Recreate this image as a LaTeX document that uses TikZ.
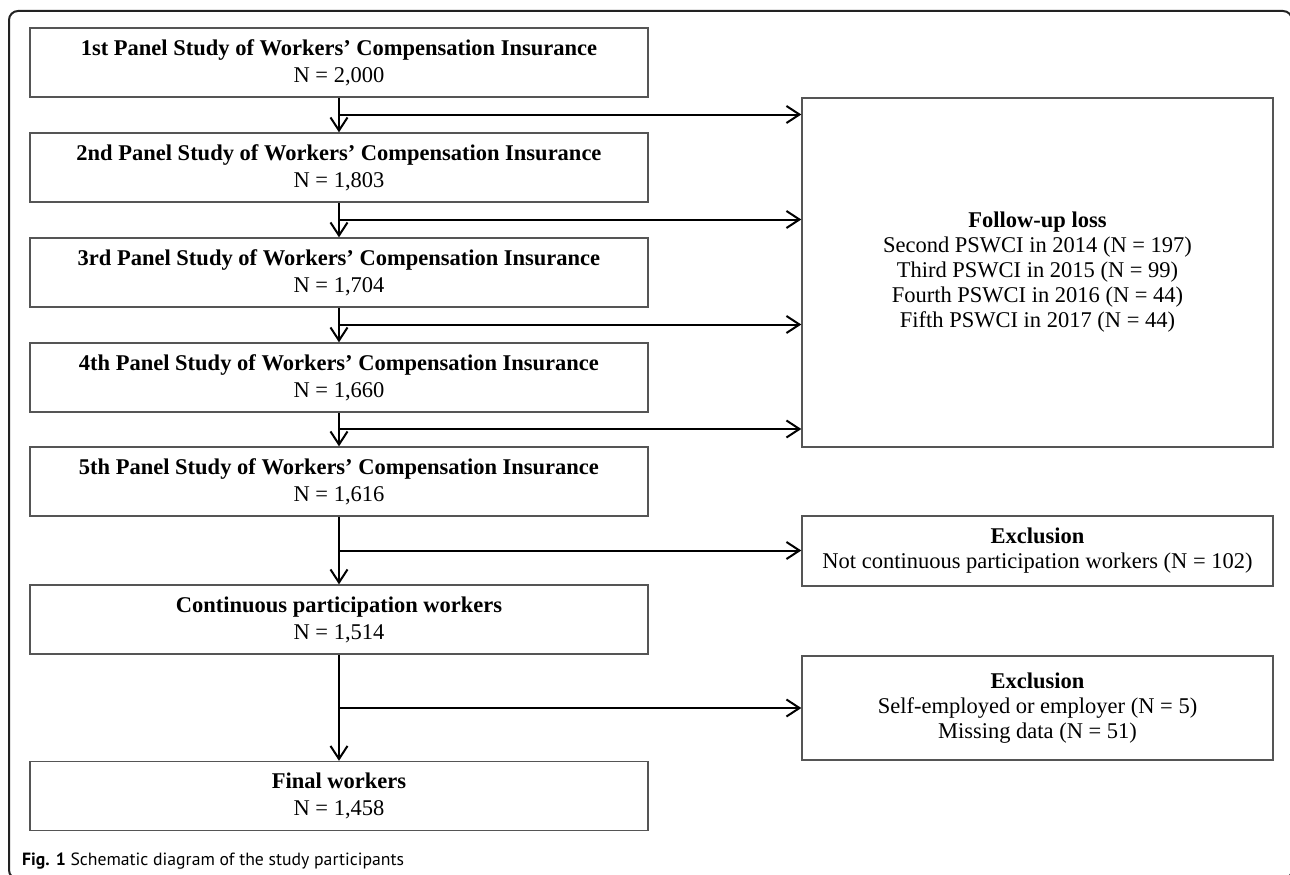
\documentclass[tikz,border=0pt]{standalone}
\usepackage{fontspec}
\setmainfont{Liberation Serif}
\newfontfamily\capfont{PT Sans}
\usetikzlibrary{arrows.meta}
\definecolor{boxgray}{HTML}{555555}
\definecolor{framecol}{HTML}{222222}
\tikzset{
  mainbox/.style={draw=boxgray, line width=1.4pt, rectangle, inner sep=0pt,
    minimum width=618pt, minimum height=69pt, align=center,
    font=\fontsize{22.5}{27}\selectfont},
  sidebox/.style={draw=boxgray, line width=1.4pt, rectangle, inner sep=0pt,
    minimum width=471pt, align=center,
    font=\fontsize{22.5}{25}\selectfont},
  flow/.style={draw=black, line width=2pt,
    -{Straight Barb[length=13pt, width=17pt, line width=2pt]}},
}
\begin{document}
\begin{tikzpicture}[x=1pt, y=-1pt]
\useasboundingbox (0,0) rectangle (1290,875);
\begin{scope}
\clip (0,0) rectangle (1290,875);
\draw[framecol, line width=2pt, rounded corners=9pt] (9,11) rectangle (1292,879);
\end{scope}

% main column
\node[mainbox] (b1) at (339,62.5) {\textbf{1st Panel Study of Workers’ Compensation Insurance}\\N = 2,000};
\node[mainbox] (b2) at (339,167.5) {\textbf{2nd Panel Study of Workers’ Compensation Insurance}\\N = 1,803};
\node[mainbox] (b3) at (339,272.5) {\textbf{3rd Panel Study of Workers’ Compensation Insurance}\\N = 1,704};
\node[mainbox] (b4) at (339,377.5) {\textbf{4th Panel Study of Workers’ Compensation Insurance}\\N = 1,660};
\node[mainbox] (b5) at (339,481.5) {\textbf{5th Panel Study of Workers’ Compensation Insurance}\\N = 1,616};
\node[mainbox] (b6) at (339,619.5) {\textbf{Continuous participation workers}\\N = 1,514};
\node[mainbox] (b7) at (339,796) {\textbf{Final workers}\\N = 1,458};

% side boxes
\node[sidebox, minimum height=349pt] (fu) at (1037.5,272.5) {\textbf{Follow-up loss}\\Second PSWCI in 2014 (N = 197)\\Third PSWCI in 2015 (N = 99)\\Fourth PSWCI in 2016 (N = 44)\\Fifth PSWCI in 2017 (N = 44)};
\node[sidebox, minimum height=70pt] (e1) at (1037.5,551) {\textbf{Exclusion}\\Not continuous participation workers (N = 102)};
\node[sidebox, minimum height=104pt] (e2) at (1037.5,708) {\textbf{Exclusion}\\Self-employed or employer (N = 5)\\Missing data (N = 51)};

% branch points
\coordinate (j1) at (339,114.5);
\coordinate (j2) at (339,219.5);
\coordinate (j3) at (339,324.5);
\coordinate (j4) at (339,429);
\coordinate (j5) at (339,550.5);
\coordinate (j6) at (339,708);

% vertical flow
\draw[flow] (b1.south) -- (b2.north);
\draw[flow] (b2.south) -- (b3.north);
\draw[flow] (b3.south) -- (b4.north);
\draw[flow] (b4.south) -- (b5.north);
\draw[flow] (b5.south) -- (b6.north);
\draw[flow] (b6.south) -- (b7.north);

% horizontal branches
\draw[flow] (j1) -- (j1 -| fu.west);
\draw[flow] (j2) -- (j2 -| fu.west);
\draw[flow] (j3) -- (j3 -| fu.west);
\draw[flow] (j4) -- (j4 -| fu.west);
\draw[flow] (j5) -- (j5 -| e1.west);
\draw[flow] (j6) -- (j6 -| e2.west);

% caption
\node[anchor=base west, inner sep=0pt, font=\capfont\fontsize{17.7}{21}\selectfont] (cap) at (22,865) {\textbf{Fig. 1} Schematic diagram of the study participants};
\end{tikzpicture}
\end{document}
